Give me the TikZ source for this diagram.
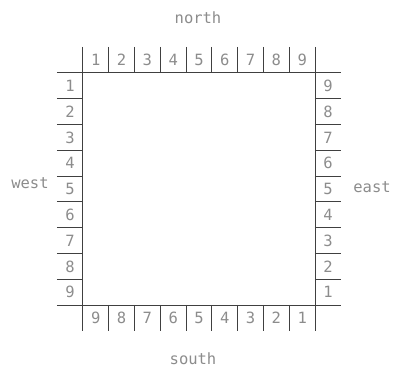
\documentclass[tikz,border=0pt]{standalone}
\usepackage{fontspec}
\setmonofont{DejaVu Sans Mono}
\usetikzlibrary{matrix, positioning}

\begin{document}
\begin{tikzpicture}[x=1pt, y=1pt,
    every node/.style={font=\ttfamily\fontsize{15.5}{15.5}\selectfont, text=black!45},
    frame/.style={draw=black!75, line width=0.8pt}]
      \useasboundingbox (0,0) rectangle (395,367);
      \matrix (m) at (199,178) [matrix of nodes, nodes in empty cells,
          column sep=0pt, row sep=0pt,
          nodes={minimum width=25.8pt, minimum height=25.8pt, inner sep=0pt, anchor=center}] {
        & 1 & 2 & 3 & 4 & 5 & 6 & 7 & 8 & 9 & \\
        1 & & & & & & & & & & 9 \\
        2 & & & & & & & & & & 8 \\
        3 & & & & & & & & & & 7 \\
        4 & & & & & & & & & & 6 \\
        5 & & & & & & & & & & 5 \\
        6 & & & & & & & & & & 4 \\
        7 & & & & & & & & & & 3 \\
        8 & & & & & & & & & & 2 \\
        9 & & & & & & & & & & 1 \\
        & 9 & 8 & 7 & 6 & 5 & 4 & 3 & 2 & 1 & \\
      } ;
      \node (north) at (198,349) {north};
      \node (south) at (193,8) {south};
      \node (west) at (30,184) {west};
      \node (east) at (372,180) {east};
      \draw[frame] (m-2-1.north west) -- (m-2-11.north east);
      \draw[frame] (m-10-1.south west) -- (m-10-11.south east);
      \draw[frame] (m-1-2.north west) -- (m-11-2.south west);
      \draw[frame] (m-1-10.north east) -- (m-11-10.south east);
      \foreach \j in {3,...,10} {
        \draw[frame] (m-1-\j.north west) -- (m-1-\j.south west);
        \draw[frame] (m-11-\j.north west) -- (m-11-\j.south west);
        \draw[frame] (m-\j-1.north west) -- (m-\j-1.north east);
        \draw[frame] (m-\j-11.north west) -- (m-\j-11.north east);
      }
    \end{tikzpicture}
\end{document}
